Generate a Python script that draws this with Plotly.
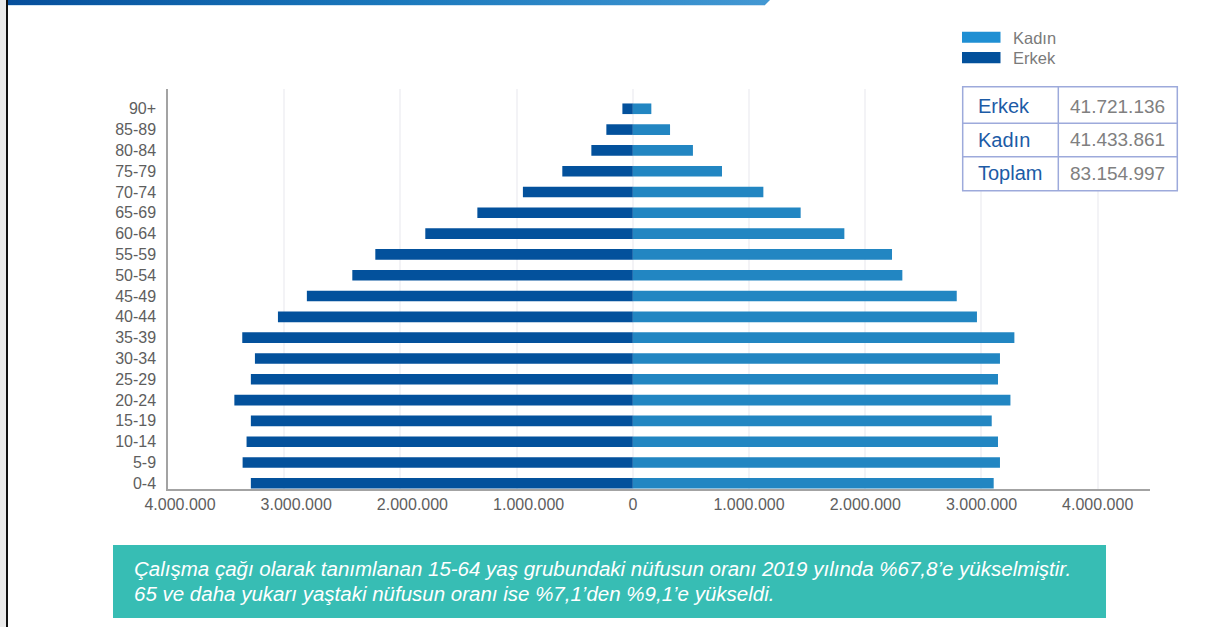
import plotly.graph_objects as go

# ---------------- data ----------------
age_groups = ["0-4", "5-9", "10-14", "15-19", "20-24", "25-29", "30-34", "35-39",
              "40-44", "45-49", "50-54", "55-59", "60-64", "65-69", "70-74",
              "75-79", "80-84", "85-89", "90+"]
erkek = [3287000, 3358000, 3324000, 3287000, 3429000, 3287000, 3252000, 3361000,
         3054000, 2805000, 2414000, 2216000, 1786000, 1338000, 946000,
         607000, 357000, 228000, 90000]
kadin = [3105000, 3159000, 3142000, 3088000, 3249000, 3142000, 3159000, 3283000,
         2961000, 2787000, 2319000, 2230000, 1820000, 1444000, 1123000,
         767000, 517000, 320000, 159000]
x_tick_vals = [-4000000, -3000000, -2000000, -1000000, 0, 1000000, 2000000, 3000000, 4000000]
x_tick_text = ["4.000.000", "3.000.000", "2.000.000", "1.000.000", "0",
               "1.000.000", "2.000.000", "3.000.000", "4.000.000"]
table_labels = ["Erkek", "Kadın", "Toplam"]
table_values = ["41.721.136", "41.433.861", "83.154.997"]
legend_names = ["Kadın", "Erkek"]
note_lines = [
    "Çalışma çağı olarak tanımlanan 15-64 yaş grubundaki nüfusun oranı 2019 yılında %67,8’e yükselmiştir.",
    "65 ve daha yukarı yaştaki nüfusun oranı ise %7,1’den %9,1’e yükseldi.",
]

# ---------------- style ----------------
W_PX, H_PX = 1218, 627
L, R, T, B = 168, 1150, 89, 489
PW, PH = R - L, B - T
MALE_C = "#03519C"
FEMALE_C = "#2286C2"
FONT = "Liberation Sans, Arial, sans-serif"


def px(x):
    return (x - L) / PW


def py(y):
    return (B - y) / PH


neg_pad = "\u2002\u2002\u2002"
tick_text = [(neg_pad + t) if v < 0 else t for v, t in zip(x_tick_vals, x_tick_text)]

fig = go.Figure()
fig.add_trace(go.Bar(y=age_groups, x=[-v for v in erkek], orientation="h",
                     marker=dict(color=MALE_C, line=dict(width=0)), width=0.51,
                     name="Erkek", showlegend=False, hoverinfo="skip"))
fig.add_trace(go.Bar(y=age_groups, x=kadin, orientation="h",
                     marker=dict(color=FEMALE_C, line=dict(width=0)), width=0.51,
                     name="Kadın", showlegend=False, hoverinfo="skip"))

shapes = []
annotations = []

# left grey strip and black frame line
shapes.append(dict(type="rect", xref="paper", yref="paper", x0=px(0), x1=px(6), y0=py(0), y1=py(627),
                   fillcolor="#EBEBEB", line=dict(width=0), layer="below"))
shapes.append(dict(type="rect", xref="paper", yref="paper", x0=px(6), x1=px(8), y0=py(0), y1=py(627),
                   fillcolor="#111111", line=dict(width=0)))

# legend
leg_colors = ["#1F8FD3", "#02509B"]
leg_y = [(31.7, 42.7), (52.0, 63.3)]
for name, col, (y0, y1) in zip(legend_names, leg_colors, leg_y):
    shapes.append(dict(type="rect", xref="paper", yref="paper", x0=px(962), x1=px(1000.5),
                       y0=py(y1), y1=py(y0), fillcolor=col, line=dict(width=0)))
    annotations.append(dict(xref="paper", yref="paper", x=px(1011), y=py((y0 + y1) / 2 + 0.5),
                            text=name, showarrow=False, xanchor="left", yanchor="middle",
                            font=dict(family=FONT, size=16.5, color="#7A7A7A")))

# table
TB = "#9DAADB"
tx0, tx1, ty0, ty1 = 962.7, 1177.3, 86.7, 190.7
shapes.append(dict(type="rect", xref="paper", yref="paper", x0=px(tx0), x1=px(tx1), y0=py(ty1), y1=py(ty0),
                   fillcolor="white", line=dict(color=TB, width=1.5)))
for yy in (123.3, 156.7):
    shapes.append(dict(type="line", xref="paper", yref="paper", x0=px(tx0), x1=px(tx1), y0=py(yy), y1=py(yy),
                       line=dict(color=TB, width=1.5)))
shapes.append(dict(type="line", xref="paper", yref="paper", x0=px(1058.3), x1=px(1058.3), y0=py(ty1), y1=py(ty0),
                   line=dict(color=TB, width=1.5)))
row_y = [106, 140, 173]
for lab, val, yy in zip(table_labels, table_values, row_y):
    annotations.append(dict(xref="paper", yref="paper", x=px(976), y=py(yy), text=lab, showarrow=False,
                            xanchor="left", yanchor="middle",
                            font=dict(family=FONT, size=20, color="#1C5BA6")))
    annotations.append(dict(xref="paper", yref="paper", x=px(1117), y=py(yy), text=val, showarrow=False,
                            xanchor="center", yanchor="middle",
                            font=dict(family=FONT, size=19, color="#808080")))

# teal note box
shapes.append(dict(type="rect", xref="paper", yref="paper", x0=px(113), x1=px(1106), y0=py(618), y1=py(545),
                   fillcolor="#37BDB4", line=dict(width=0)))
for line, yy in zip(note_lines, (568, 593)):
    annotations.append(dict(xref="paper", yref="paper", x=px(132), y=py(yy), text="<i>" + line + "</i>",
                            showarrow=False, xanchor="left", yanchor="middle",
                            font=dict(family=FONT, size=20.5, color="white")))

# top banner (gradient) as inline svg image
banner_svg = (
    "data:image/svg+xml;utf8,"
    "<svg xmlns='http://www.w3.org/2000/svg' width='762' height='7' viewBox='0 0 762 7'>"
    "<defs><linearGradient id='g' x1='0' x2='1' y1='0' y2='0'>"
    "<stop offset='0' stop-color='%23064F9C'/>"
    "<stop offset='0.5' stop-color='%231A78BC'/>"
    "<stop offset='1' stop-color='%234398D3'/>"
    "</linearGradient></defs>"
    "<polygon points='0,0 762,0 757,5 0,5' fill='url(%23g)'/>"
    "<rect x='0' y='5' width='757' height='1' fill='%23CFE3F3'/>"
    "</svg>"
)

fig.update_layout(
    width=W_PX, height=H_PX,
    margin=dict(l=L, r=W_PX - R, t=T, b=H_PX - B, pad=0),
    paper_bgcolor="white", plot_bgcolor="white",
    barmode="relative", bargap=0.49,
    shapes=shapes, annotations=annotations,
    images=[dict(source=banner_svg, xref="paper", yref="paper", x=px(8), y=py(0),
                 sizex=(762) / PW, sizey=7 / PH, xanchor="left", yanchor="top",
                 sizing="stretch", layer="above")],
    font=dict(family=FONT),
    xaxis=dict(range=[-4000000, 4450000], tickvals=x_tick_vals, ticktext=tick_text,
               showgrid=True, gridcolor="#F3F3F6", gridwidth=1.5, zeroline=False,
               showline=True, linecolor="#A3A3A3", linewidth=1.5, ticks="",
               tickfont=dict(family=FONT, size=16, color="#5E5E5E"), fixedrange=True),
    yaxis=dict(type="category", categoryorder="array", categoryarray=age_groups,
               range=[-0.274, 18.95], showgrid=False, zeroline=False,
               showline=True, linecolor="#A3A3A3", linewidth=1.5, ticks="",
               ticklabelstandoff=7,
               tickfont=dict(family=FONT, size=16, color="#5E5E5E"), fixedrange=True),
)

fig.write_html("out.html")
